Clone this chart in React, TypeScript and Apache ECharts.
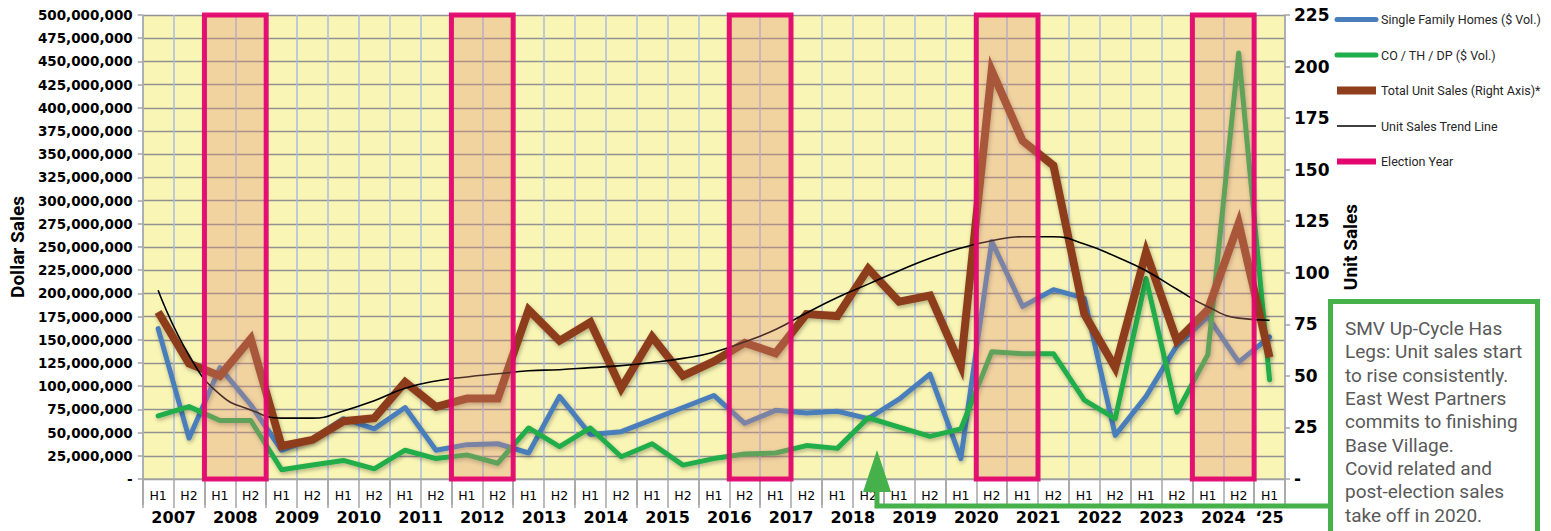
import React, { useEffect, useRef } from 'react';
import * as echarts from 'echarts';

// ---------- DATA ----------
const years = ['2007','2008','2009','2010','2011','2012','2013','2014','2015','2016','2017','2018','2019','2020','2021','2022','2023','2024','\u201825'];
const halves = ['H1', 'H2'];
const periods: string[] = [];
years.forEach((y, i) => {
  const hs = i === years.length - 1 ? ['H1'] : halves;
  hs.forEach((h) => periods.push(`${y} ${h}`));
});

// $ millions
const singleFamilyM = [162, 44, 120, 80, 31, 43, 65, 54, 77, 31, 37, 38, 28, 89, 48, 51, 64, 77, 90, 60, 74, 71, 73, 65, 86, 113, 22, 256, 186, 204, 195, 47, 89, 144, 175, 126, 153];
const condoM = [68, 78, 63, 63, 10, 15, 20, 11, 31, 22, 26, 17, 55, 35, 55, 24, 38, 15, 22, 27, 28, 36, 33, 66, 56, 46, 54, 137, 135, 135, 85, 65, 216, 72, 134, 459, 107];
// unit counts (right axis)
const totalUnits = [81, 56, 50, 68, 16, 19, 28, 29.5, 47, 35, 39, 39, 82, 67, 76, 44, 69, 50, 57, 66, 61, 80, 79, 102, 86, 89, 55, 198, 164, 152, 80, 54, 110, 67, 82, 124, 59];
const trendUnits = [91.5, 60, 41, 33.5, 29.5, 29.5, 33, 38, 44, 47.5, 49.5, 51, 52.5, 53, 54, 55, 56.5, 58.5, 61.5, 66.5, 72.5, 80.5, 88, 94.5, 101, 107, 112, 115.5, 117.5, 117.5, 114, 108, 101, 92, 83.5, 78, 77];
const electionSpans = [
  ['2008 H1', '2008 H2'],
  ['2012 H1', '2012 H2'],
  ['2016 H2', '2017 H1'],
  ['2020 H2', '2021 H1'],
  ['2024 H1', '2024 H2'],
];
const seriesNames = ['Single Family Homes ($ Vol.)', 'CO / TH / DP ($ Vol.)', 'Total Unit Sales (Right Axis)*', 'Unit Sales Trend Line', 'Election Year'];
const noteText = 'SMV Up-Cycle Has\nLegs: Unit sales start\nto rise consistently.\nEast West Partners\ncommits to finishing\nBase Village.\nCovid related and\npost-election sales\ntake off in 2020.';

const BLUE = '#4A7EBB';
const GREEN = '#20AD4B';
const BROWN = '#8E3E1C';
const MAGENTA = '#E3066E';
const ARROW_GREEN = '#46B04B';
const GRIDGRAY = '#929292';
const AXISGRAY = '#A6A6A6';

const shadow = { shadowColor: 'rgba(0,0,0,0.3)', shadowBlur: 4, shadowOffsetX: 1, shadowOffsetY: 2 };

export default function App() {
  const ref = useRef<HTMLDivElement>(null);
  useEffect(() => {
    if (!ref.current) return;
    const chart = echarts.init(ref.current, undefined, { renderer: 'svg' });
    const nPer = periods.length;
    const option: any = {
      animation: false,
      backgroundColor: '#ffffff',
      grid: {
        left: 133, right: 266, top: 15, bottom: 66,
        show: true, backgroundColor: '#F9F6B5', borderWidth: 0,
      },
      legend: {
        orient: 'vertical',
        left: 1328, top: 8,
        itemWidth: 39, itemHeight: 12, itemGap: 22.5,
        data: seriesNames,
        itemStyle: { opacity: 0 },
        lineStyle: { width: 'inherit', shadowBlur: 0, shadowOffsetX: 0, shadowOffsetY: 0 },
        textStyle: { fontFamily: 'Roboto', fontSize: 12.5, color: '#262626' },
      },
      xAxis: [
        {
          type: 'category', data: periods, boundaryGap: true, position: 'bottom',
          axisLine: { show: true, lineStyle: { color: AXISGRAY, width: 1.5 } },
          axisTick: { show: true, interval: 0, length: 29, lineStyle: { color: AXISGRAY, width: 1.5 } },
          axisLabel: {
            interval: 0, margin: 10, color: '#000', fontFamily: 'DejaVu Sans', fontSize: 12.5,
            formatter: (v: string) => v.split(' ')[1],
          },
          splitLine: { show: true, interval: 0, lineStyle: { color: '#A9BDE3', width: 1.5 } },
        },
        {
          type: 'category', data: periods, boundaryGap: true, position: 'bottom', offset: 29,
          axisLine: { show: false },
          axisTick: { show: true, length: 26, interval: (i: number) => i % 2 === 0, lineStyle: { color: AXISGRAY, width: 1.5 } },
          axisLabel: {
            interval: (i: number) => i % 2 === 0, margin: 1,
            formatter: (v: string, i: number) => {
              const y = v.split(' ')[0];
              return i === nPer - 1 ? `{last|${y}}` : `{yr|${y}}`;
            },
            rich: {
              yr: { padding: [0, 0, 0, 31], fontFamily: 'DejaVu Sans', fontWeight: 'bold', fontSize: 16, color: '#000' },
              last: { fontFamily: 'DejaVu Sans', fontWeight: 'bold', fontSize: 16, color: '#000' },
            },
          },
          splitLine: { show: false },
        },
      ],
      yAxis: [
        {
          type: 'value', min: 0, max: 500000000, interval: 25000000, position: 'left',
          name: 'Dollar Sales', nameLocation: 'middle', nameRotate: 90, nameGap: 108,
          nameTextStyle: { fontFamily: 'Roboto', fontWeight: 'bold', fontSize: 19, color: '#000' },
          axisLine: { show: true, lineStyle: { color: AXISGRAY, width: 1.5 } },
          axisTick: { show: true, length: 5, lineStyle: { color: AXISGRAY, width: 1.5 } },
          axisLabel: {
            margin: 10, color: '#000', fontFamily: 'DejaVu Sans', fontWeight: 'bold', fontSize: 13.5,
            formatter: (v: number) => (v === 0 ? '-' : v.toLocaleString('en-US')),
          },
          splitLine: { show: true, lineStyle: { color: GRIDGRAY, width: 1.3 } },
        },
        {
          type: 'value', min: 0, max: 225, interval: 25, position: 'right',
          name: 'Unit Sales', nameLocation: 'middle', nameRotate: 90, nameGap: 56,
          nameTextStyle: { fontFamily: 'Roboto', fontWeight: 'bold', fontSize: 19, color: '#000' },
          axisLine: { show: true, lineStyle: { color: AXISGRAY, width: 1.5 } },
          axisTick: { show: true, length: 5, lineStyle: { color: AXISGRAY, width: 1.5 } },
          axisLabel: {
            margin: 9, color: '#000', fontFamily: 'DejaVu Sans', fontWeight: 'bold', fontSize: 17,
            formatter: (v: number) => (v === 0 ? '-' : String(v)),
          },
          splitLine: { show: false },
        },
      ],
      series: [
        {
          name: seriesNames[0], type: 'line', xAxisIndex: 0, yAxisIndex: 0, symbol: 'none', z: 2,
          data: singleFamilyM.map((v) => v * 1e6),
          lineStyle: { color: BLUE, width: 5, join: 'round', cap: 'round', ...shadow },
          itemStyle: { color: BLUE },
        },
        {
          name: seriesNames[1], type: 'line', xAxisIndex: 0, yAxisIndex: 0, symbol: 'none', z: 3,
          data: condoM.map((v) => v * 1e6),
          lineStyle: { color: GREEN, width: 5, join: 'round', cap: 'round', ...shadow },
          itemStyle: { color: GREEN },
        },
        {
          name: seriesNames[2], type: 'line', xAxisIndex: 0, yAxisIndex: 1, symbol: 'none', z: 4,
          data: totalUnits,
          lineStyle: { color: BROWN, width: 8, join: 'miter', ...shadow },
          itemStyle: { color: BROWN },
        },
        {
          name: seriesNames[3], type: 'line', xAxisIndex: 0, yAxisIndex: 1, symbol: 'none', z: 5,
          data: trendUnits, smooth: true,
          lineStyle: { color: '#000', width: 1.6 },
          itemStyle: { color: '#000' },
        },
        {
          name: seriesNames[4], type: 'line', xAxisIndex: 0, yAxisIndex: 0, symbol: 'none',
          data: [],
          lineStyle: { color: MAGENTA, width: 6 },
          itemStyle: { color: MAGENTA },
        },
        {
          name: 'Election boxes', type: 'custom', xAxisIndex: 0, yAxisIndex: 0, z: 10,
          encode: { x: [0, 1], y: 2 },
          data: electionSpans.map(([a, b]) => [periods.indexOf(a), periods.indexOf(b), 0]),
          renderItem: (params: any, api: any) => {
            const cs = params.coordSys;
            const band = cs.width / nPer;
            const p0 = api.coord([api.value(0), 0]);
            const p1 = api.coord([api.value(1), 0]);
            return {
              type: 'rect',
              shape: { x: p0[0] - band / 2, y: cs.y, width: p1[0] - p0[0] + band, height: cs.height },
              style: { fill: 'rgba(225,140,120,0.35)', stroke: MAGENTA, lineWidth: 5, opacity: 0.95 },
            };
          },
        },
      ],
      graphic: [
        {
          type: 'polyline', z: 100,
          shape: { points: [[877, 488], [877, 506], [1331, 506]] },
          style: { stroke: ARROW_GREEN, lineWidth: 5, fill: null },
        },
        {
          type: 'polygon', z: 100,
          shape: { points: [[877, 450], [863, 492], [891, 492]] },
          style: { fill: ARROW_GREEN },
        },
        {
          type: 'rect', z: 100,
          shape: { x: 1330.5, y: 301.5, width: 207, height: 270 },
          style: { fill: '#ffffff', stroke: ARROW_GREEN, lineWidth: 5 },
        },
        {
          type: 'text', z: 101, x: 1345, y: 317,
          style: {
            text: noteText, fontFamily: 'Roboto', fontSize: 19, lineHeight: 23.3,
            fill: '#595959', verticalAlign: 'top', align: 'left',
          },
        },
      ],
    };
    chart.setOption(option);
    return () => chart.dispose();
  }, []);
  return (
    <div
      ref={ref}
      style={{ position: 'fixed', left: 0, top: 0, width: 1551, height: 545, background: '#fff' }}
    />
  );
}
